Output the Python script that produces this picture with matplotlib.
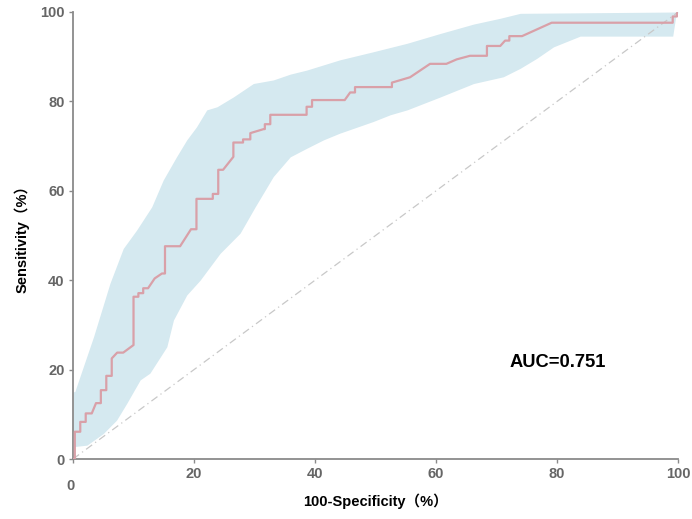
import matplotlib
matplotlib.use("Agg")
import matplotlib.pyplot as plt
import matplotlib.transforms as mtransforms
import numpy as np

# ROC step curve (100-Specificity %, Sensitivity %)
roc_x = [0, 0.3, 0.3, 1.2, 1.2, 2.1, 2.1, 3.1, 3.8, 4.6, 4.6, 5.5, 5.5, 6.4, 6.4, 7.3, 8.3,
         10.0, 10.0, 10.8, 10.8, 11.6, 11.6, 12.4, 13.5, 14.7, 15.2, 15.2, 17.7, 19.5, 20.4, 20.4,
         23.1, 23.1, 24.0, 24.0, 24.8, 26.5, 26.5, 28.1, 28.1, 29.3, 29.3, 31.5, 31.7, 31.7, 32.6,
         32.6, 38.1, 38.6, 38.6, 39.5, 39.5, 44.9, 45.8, 46.6, 46.6, 52.7, 52.7, 55.7, 59.0, 61.7,
         63.4, 65.6, 68.4, 68.4, 70.6, 71.4, 72.1, 72.1, 74.2, 79.1, 99.1, 99.1, 99.8, 99.8, 100]
roc_y = [0, 0, 6.1, 6.1, 8.3, 8.3, 10.2, 10.2, 12.5, 12.5, 15.4, 15.4, 18.6, 18.6, 22.5, 23.8, 23.8,
         25.5, 36.3, 36.3, 37.1, 37.1, 38.2, 38.2, 40.4, 41.5, 41.5, 47.6, 47.6, 51.4, 51.4, 58.2,
         58.2, 59.3, 59.3, 64.7, 64.7, 67.6, 70.8, 70.8, 71.5, 71.5, 72.9, 73.8, 73.8, 74.9, 74.9,
         77.0, 77.0, 77.0, 78.8, 78.8, 80.3, 80.3, 82.0, 82.0, 83.2, 83.2, 84.2, 85.4, 88.4, 88.4,
         89.4, 90.2, 90.2, 92.4, 92.4, 93.6, 93.6, 94.6, 94.6, 97.6, 97.6, 99.0, 99.0, 99.7, 100]

# 95% CI band
ci_upper_x = [0, 0.3, 3.4, 6.1, 8.3, 10.5, 13.0, 14.9, 17.1, 18.8, 20.4, 22.1, 23.8, 26.5, 29.8,
              33.1, 35.9, 38.6, 44.1, 49.6, 55.2, 60.7, 66.2, 70.6, 73.9, 100]
ci_upper_y = [15.0, 15.1, 27.4, 39.3, 47.1, 51.2, 56.4, 62.4, 67.6, 71.4, 74.3, 78.1, 78.8, 81.0,
              84.0, 84.8, 86.1, 87.0, 89.3, 91.1, 93.0, 95.2, 97.3, 98.6, 99.7, 100]
ci_lower_x = [0, 0.3, 2.3, 5.0, 7.2, 8.9, 11.1, 12.7, 15.5, 16.6, 18.8, 21.0, 24.3, 27.6, 30.1,
              33.1, 35.9, 38.6, 41.4, 44.1, 49.6, 52.4, 55.2, 60.7, 66.2, 71.1, 73.9, 76.6,
              79.4, 83.8, 99.1, 99.6, 100]
ci_lower_y = [2.0, 2.8, 3.1, 5.7, 8.7, 12.5, 17.7, 19.2, 25.1, 31.1, 36.7, 40.0, 46.0, 50.5, 56.4,
              63.2, 67.6, 69.5, 71.4, 72.9, 75.5, 77.0, 78.1, 81.0, 84.0, 85.5, 87.4, 89.6,
              92.2, 94.6, 94.6, 99.0, 100]

ticks = [0, 20, 40, 60, 80, 100]
auc_text = "AUC=0.751"

fig = plt.figure(figsize=(6.92, 5.19), dpi=100)
ax = fig.add_axes([0.1055, 0.1156, 0.8745, 0.8613])

grid = np.linspace(0, 100, 1001)
up = np.interp(grid, ci_upper_x, ci_upper_y)
lo = np.interp(grid, ci_lower_x, ci_lower_y)
ax.fill_between(grid, lo, up, color="#d5e9f0", lw=0, zorder=1)

ax.plot([0, 100], [0, 100], color="#c8c8c8", lw=0.9, ls=(0, (6, 3, 1, 3)), zorder=2)
ax.plot(roc_x, roc_y, color="#d9a0a8", lw=1.6, zorder=3)

ax.set_xlim(0, 100)
ax.set_ylim(0, 100)
ax.set_xticks(ticks)
ax.set_yticks(ticks)
for s in ["top", "right"]:
    ax.spines[s].set_visible(False)
for s in ["left", "bottom"]:
    ax.spines[s].set_color("#8a8a8a")
    ax.spines[s].set_linewidth(1.3)
ax.tick_params(colors="#8a8a8a", length=3, width=1, labelsize=10.5)
ax.tick_params(axis="x", pad=3)
ax.tick_params(axis="y", pad=3)
for lab in ax.get_xticklabels() + ax.get_yticklabels():
    lab.set_color("#666666")
    lab.set_fontweight("bold")
    lab.set_family(["Liberation Sans", "DejaVu Sans"])
# the "0" on the x axis sits lower than the other labels in the reference
xl0 = ax.get_xticklabels()[0]
xl0.set_transform(xl0.get_transform() + mtransforms.ScaledTranslation(-2 / 72, -8.5 / 72, fig.dpi_scale_trans))

fam = ["Liberation Sans", "Noto Sans CJK SC", "DejaVu Sans"]
ax.set_xlabel("100-Specificity（%）", fontsize=10.5, fontweight="bold", family=fam)
ax.set_ylabel("Sensitivity（%）", fontsize=10.5, fontweight="bold", family=fam)
ax.xaxis.set_label_coords(0.5, -0.076)
ax.yaxis.set_label_coords(-0.071, 0.5)
ax.text(72.2, 21.5, auc_text, fontsize=13.2, fontweight="bold", family=fam, va="center", ha="left")

fig.savefig("out.png", dpi=100)
